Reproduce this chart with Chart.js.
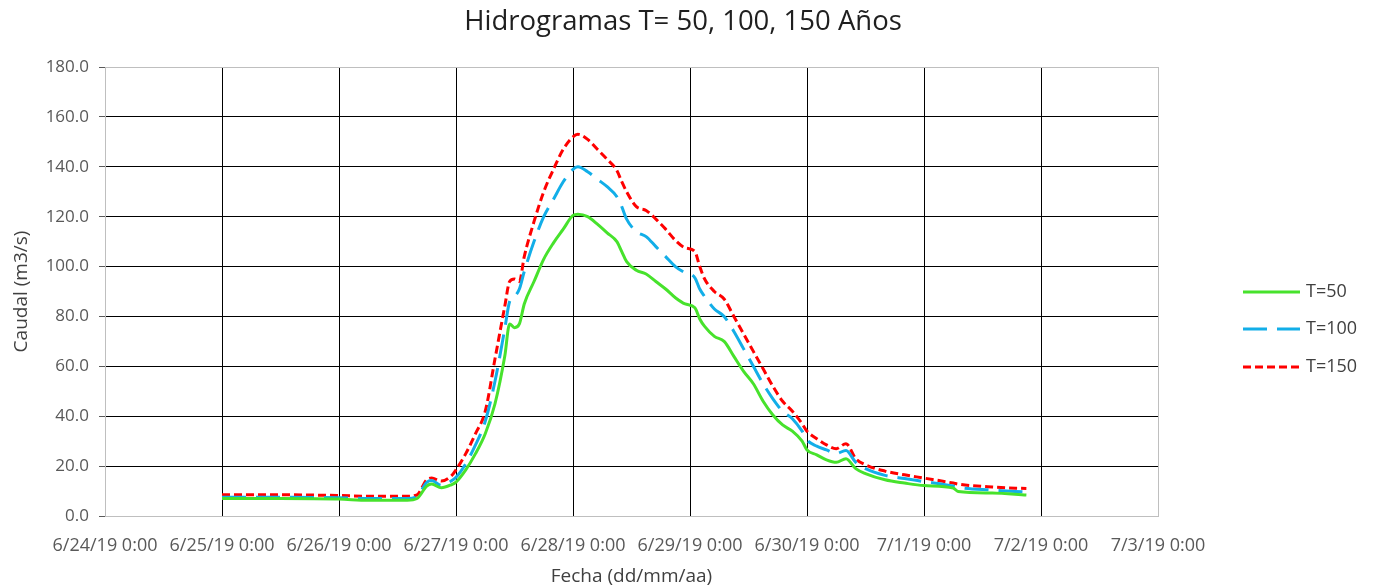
<!DOCTYPE html>
<html>
<head>
<meta charset="utf-8">
<script src="https://cdn.jsdelivr.net/npm/chart.js@4.4.1/dist/chart.umd.min.js"></script>
<style>
  html, body { margin: 0; padding: 0; background: #ffffff; }
  #wrap { width: 1373px; height: 588px; position: relative; }
</style>
</head>
<body>
<div id="wrap"><canvas id="c" width="1373" height="588"></canvas></div>
<script>
// Hours since 6/24/19 0:00
const hours = [24,36,48,54,62,64,66,67,69,71,72,74,76,78,80,82,83,84,85,86,88,90,92,94,96,97,99,101,103,105,106,107,109,111,113,115,117,119,121,122,123,125,127,129,131,133,135,137,139,141,143,144,146,148,150,152,154,156,160,164,168,174,175,182,189];
const t50  = [7.0,7.0,6.8,6.3,6.3,7.0,12.0,12.8,11.3,12.5,13.6,18.5,25.0,33.0,45.0,64.0,77.0,75.5,77.0,85.0,94.0,103.0,109.5,115.0,120.5,121.0,120.0,117.0,113.5,110.0,106.0,102.0,98.5,97.0,94.0,91.0,87.5,85.0,83.5,79.0,76.0,72.0,70.0,64.0,58.0,53.0,46.0,40.5,36.5,34.0,30.0,26.5,24.5,22.5,21.5,23.0,19.0,17.0,14.5,13.2,12.2,11.2,9.8,9.2,8.4];
const t100 = [7.5,7.5,7.3,7.0,7.0,7.8,13.5,14.2,12.3,14.0,15.5,21.0,28.5,38.0,54.0,75.0,86.0,88.0,91.0,98.0,110.0,120.0,127.0,134.0,139.0,140.0,138.0,135.0,132.0,128.0,124.0,119.0,114.0,112.0,108.0,104.0,100.0,97.5,95.5,91.0,88.0,83.0,80.0,74.0,67.0,60.0,53.0,47.0,42.0,39.0,34.0,30.5,28.0,26.5,25.0,26.3,21.5,19.0,16.3,15.0,13.8,12.0,11.5,10.4,9.6];
const t150 = [8.5,8.5,8.2,7.9,7.9,8.5,14.5,15.2,14.0,16.0,18.5,25.0,33.0,42.0,63.0,84.0,94.0,95.0,94.0,104.0,118.0,130.0,139.0,147.0,152.0,153.0,151.0,147.0,143.0,138.5,134.0,130.0,124.0,122.5,119.0,115.0,110.5,107.5,106.0,100.0,95.0,90.0,87.0,80.0,73.0,66.0,59.0,52.0,46.0,42.0,37.0,34.0,31.0,28.5,27.0,29.0,23.0,20.5,18.0,16.5,15.2,13.2,12.8,11.6,11.0];
const xTickLabels = ["6/24/19 0:00","6/25/19 0:00","6/26/19 0:00","6/27/19 0:00","6/28/19 0:00","6/29/19 0:00","6/30/19 0:00","7/1/19 0:00","7/2/19 0:00","7/3/19 0:00"];
const seriesLabels = ["T=50","T=100","T=150"];
const chartTitle = 'Hidrogramas T= 50, 100, 150 Años';

const FONT = "'Open Sans', sans-serif";
const toPts = (arr) => hours.map((h, i) => ({x: h, y: arr[i]}));

const decorPlugin = {
  id: 'decor',
  afterDraw(chart) {
    const ctx = chart.ctx;
    // title
    ctx.save();
    ctx.fillStyle = '#1f1f1f';
    ctx.font = "27.5px " + FONT;
    ctx.textAlign = 'center';
    ctx.textBaseline = 'alphabetic';
    ctx.fillText(chartTitle, 683, 30);
    ctx.restore();
    // legend
    const ys = [292, 329, 367];
    chart.data.datasets.forEach((ds, i) => {
      ctx.save();
      ctx.strokeStyle = ds.borderColor;
      ctx.lineWidth = ds.borderWidth;
      ctx.setLineDash(ds.borderDash || []);
      ctx.beginPath();
      ctx.moveTo(1243, ys[i]);
      ctx.lineTo(1300, ys[i]);
      ctx.stroke();
      ctx.setLineDash([]);
      ctx.fillStyle = '#404040';
      ctx.font = "18px " + FONT;
      ctx.textBaseline = 'middle';
      ctx.textAlign = 'left';
      ctx.fillText(ds.label, 1306, ys[i]);
      ctx.restore();
    });
  }
};

const frame = '#bfbfbf';
new Chart(document.getElementById('c'), {
  type: 'line',
  data: {
    datasets: [
      { label: seriesLabels[0], data: toPts(t50), borderColor: '#47e22c', borderWidth: 3, pointRadius: 0, cubicInterpolationMode: 'monotone', fill: false },
      { label: seriesLabels[1], data: toPts(t100), borderColor: '#12aee8', borderWidth: 3, borderDash: [24, 10], pointRadius: 0, cubicInterpolationMode: 'monotone', fill: false },
      { label: seriesLabels[2], data: toPts(t150), borderColor: '#ff0000', borderWidth: 3, borderDash: [8, 4], pointRadius: 0, cubicInterpolationMode: 'monotone', fill: false }
    ]
  },
  options: {
    responsive: false,
    animation: false,
    layout: { padding: { left: 0, right: 215, top: 67, bottom: 0 } },
    plugins: {
      legend: { display: false },
      tooltip: { enabled: false },
      title: { display: false }
    },
    scales: {
      x: {
        type: 'linear',
        min: 0, max: 216,
        afterFit: (s) => { s.height = 72; },
        afterBuildTicks: (s) => { s.ticks = xTickLabels.map((_, i) => ({ value: i * 24 })); },
        ticks: {
          autoSkip: false, maxRotation: 0, padding: 19,
          color: '#595959',
          font: { family: FONT, size: 18 },
          callback: (v) => xTickLabels[Math.round(v / 24)]
        },
        grid: {
          drawTicks: false,
          color: (c) => (c.tick && (c.tick.value === 0 || c.tick.value === 216)) ? frame : '#000000',
          lineWidth: 1
        },
        border: { color: frame, width: 1 },
        title: {
          display: true, text: 'Fecha (dd/mm/aa)', color: '#404040',
          font: { family: FONT, size: 19 }, padding: { top: 2, bottom: 0 }
        }
      },
      y: {
        min: 0, max: 180,
        afterFit: (s) => { s.width = 105; },
        ticks: {
          stepSize: 20, padding: 10, color: '#595959',
          font: { family: FONT, size: 17 },
          callback: (v) => v.toFixed(1)
        },
        grid: {
          drawTicks: true, tickLength: 6, tickColor: '#595959',
          color: (c) => (c.tick && (c.tick.value === 0 || c.tick.value === 180)) ? frame : '#000000',
          lineWidth: 1
        },
        border: { color: frame, width: 1 },
        title: {
          display: true, text: 'Caudal (m3/s)', color: '#404040',
          font: { family: FONT, size: 19 }, padding: { top: 10, bottom: 0 }
        }
      }
    }
  },
  plugins: [decorPlugin]
});
</script>
</body>
</html>
